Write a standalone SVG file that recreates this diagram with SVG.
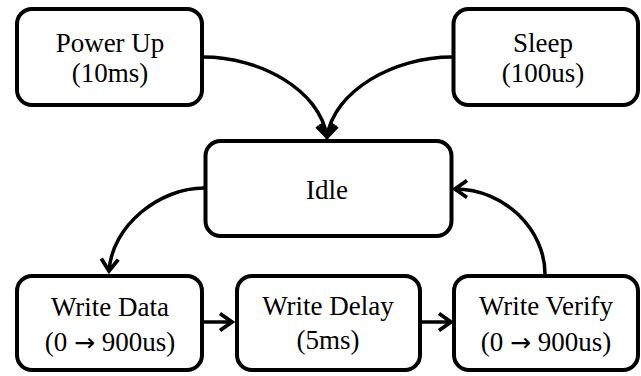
<svg xmlns="http://www.w3.org/2000/svg" width="641" height="376" viewBox="0 0 641 376">
  <style>
    .box { fill: #ffffff; stroke: #000000; stroke-width: 4; }
    .lbl { font-family: 'Liberation Serif', 'Times New Roman', serif; font-size: 27px; fill: #000000; text-anchor: middle; }
    .arr { font-family: 'DejaVu Sans', sans-serif; font-size: 25px; }
    .conn { fill: none; stroke: #000000; stroke-width: 3.5; marker-end: url(#arrow); }
  </style>
  <defs>
    <marker id="arrow" markerUnits="userSpaceOnUse" viewBox="-16 -12 20 24" markerWidth="20" markerHeight="24" refX="0" refY="0" orient="auto">
      <path d="M-12,-8.5 L0,0 L-12,8.5" fill="none" stroke="#000000" stroke-width="3.8" stroke-linejoin="miter" stroke-linecap="butt"/>
    </marker>
  </defs>
  <rect width="641" height="376" fill="#ffffff"/>

  <g id="connectors">
    <path class="conn" d="M203,57 C260,57 320,90 327,137"/>
    <path class="conn" d="M452,57 C395,57 334,90 327,137"/>
    <path class="conn" d="M204,188 C160,188 112,225 109,271"/>
    <path class="conn" d="M545,274 C545,230 505,189 455,189"/>
    <path class="conn" d="M204,322 L232,322"/>
    <path class="conn" d="M421,322 L451,322"/>
  </g>

  <g id="power-up">
    <rect class="box" x="17" y="9" width="185" height="96" rx="15"/>
    <text class="lbl" x="110" y="52">Power Up</text>
    <text class="lbl" x="110" y="82">(10ms)</text>
  </g>

  <g id="sleep">
    <rect class="box" x="453.5" y="9" width="184.5" height="96" rx="15"/>
    <text class="lbl" x="543" y="52">Sleep</text>
    <text class="lbl" x="543" y="82">(100us)</text>
  </g>

  <g id="idle">
    <rect class="box" x="205.5" y="141" width="246" height="95" rx="15"/>
    <text class="lbl" x="327" y="199">Idle</text>
  </g>

  <g id="write-data">
    <rect class="box" x="17" y="276" width="185" height="94" rx="15"/>
    <text class="lbl" x="110" y="316">Write Data</text>
    <text class="lbl" x="110" y="351">(0 <tspan class="arr">→</tspan> 900us)</text>
  </g>

  <g id="write-delay">
    <rect class="box" x="237" y="276" width="183" height="94" rx="15"/>
    <text class="lbl" x="328" y="315">Write Delay</text>
    <text class="lbl" x="328" y="349">(5ms)</text>
  </g>

  <g id="write-verify">
    <rect class="box" x="454" y="276" width="184" height="94" rx="15"/>
    <text class="lbl" x="546" y="315">Write Verify</text>
    <text class="lbl" x="546" y="351">(0 <tspan class="arr">→</tspan> 900us)</text>
  </g>
</svg>
